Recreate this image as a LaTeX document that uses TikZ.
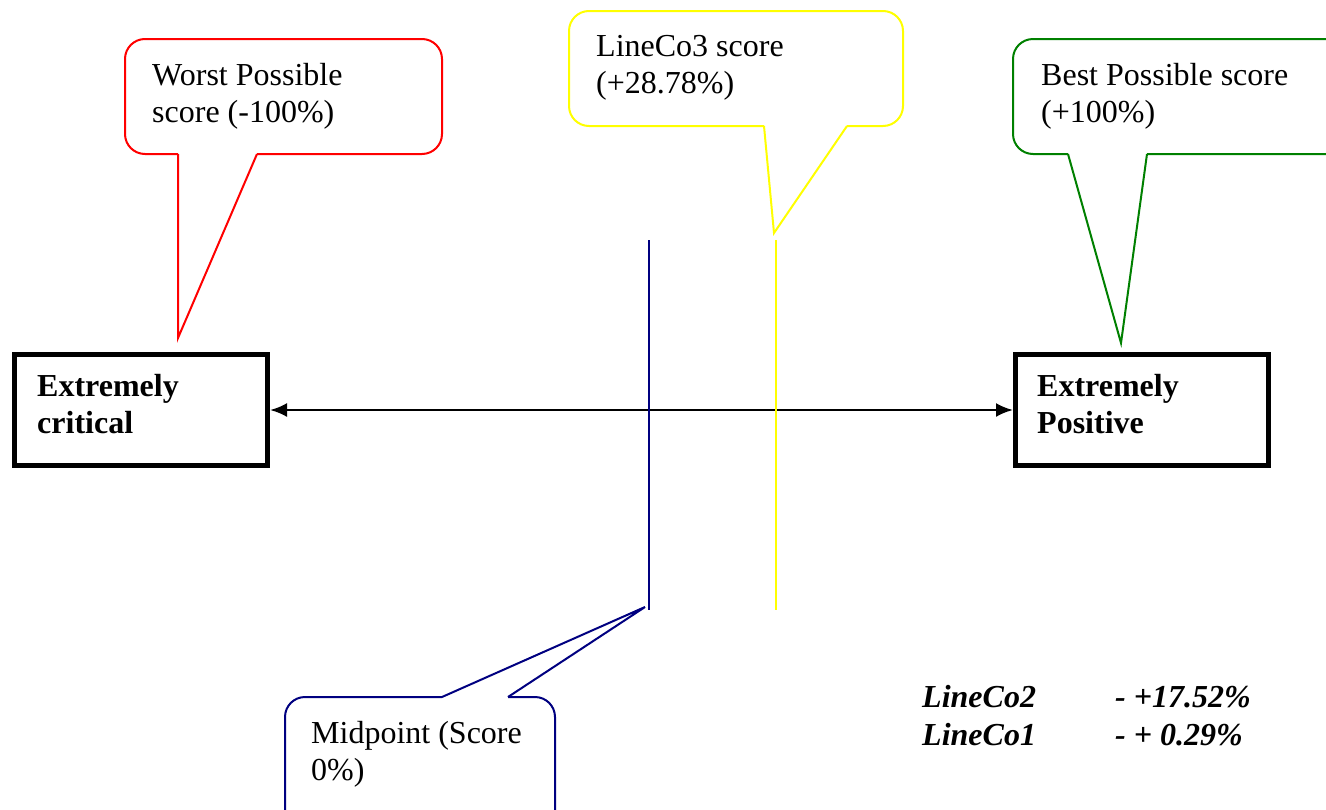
\documentclass[tikz,border=0pt]{standalone}
\usepackage{fontspec}
\setmainfont{Liberation Serif}
\usetikzlibrary{arrows.meta}
\definecolor{calred}{RGB}{255,0,0}
\definecolor{calyellow}{RGB}{255,255,0}
\definecolor{calgreen}{RGB}{0,128,0}
\definecolor{calblue}{RGB}{0,0,128}
\begin{document}
\begin{tikzpicture}[x=1pt,y=-1pt,
  txt/.style={inner sep=0pt, anchor=base west, align=left,
    font=\fontsize{32}{37}\selectfont},
  boldtxt/.style={txt, font=\fontsize{32}{37}\selectfont\bfseries},
  notetxt/.style={txt, font=\fontsize{32}{37}\selectfont\bfseries\itshape},
  endbox/.style={draw=black, line width=5pt, fill=white, inner sep=0pt,
    minimum width=253pt, minimum height=111pt},
  bubble/.style={line width=2pt, rounded corners=20pt, line join=miter},
  tail/.style={line width=2pt, line join=miter},
  marker/.style={line width=2pt},
  scalearrow/.style={line width=2.5pt, {Latex[length=17pt,width=14pt]}-{Latex[length=17pt,width=14pt]}}
]
\useasboundingbox (0,0) rectangle (1326,809);
\clip (0,0) rectangle (1326,809);

% end points of the scale (base anchor = baseline of the last line)
\node[endbox] (crit) at (141,410) {};
\node[endbox] (pos)  at (1142,410) {};
\node[boldtxt] (critlbl) at (37,433) {Extremely\\critical};
\node[boldtxt] (poslbl)  at (1037,433) {Extremely\\Positive};
\draw[scalearrow] (crit.east) -- (pos.west);

% vertical markers: midpoint and LineCo3
\coordinate (midtop) at (649,240);
\coordinate (midbot) at (649,610);
\coordinate (l3top) at (776,240);
\coordinate (l3bot) at (776,610);
\draw[marker, calblue] (midtop) -- (midbot);
\draw[marker, calyellow] (l3top) -- (l3bot);

% worst possible callout
\coordinate (redtip) at (178,338);
\draw[bubble, calred] (257,154) -- (442,154) -- (442,39) -- (125,39) -- (125,154) -- (178,154);
\draw[tail, calred] (178,154) -- (redtip) -- (257,154);
\node[txt] (worst) at (152,122) {Worst Possible\\score (-100\%)};

% LineCo3 callout
\coordinate (yeltip) at (774,233);
\draw[bubble, calyellow] (847,126) -- (903,126) -- (903,11) -- (569,11) -- (569,126) -- (764,126);
\draw[tail, calyellow] (764,126) -- (yeltip) -- (847,126);
\node[txt] (lineco3) at (596,93) {LineCo3 score\\(+28.78\%)};

% best possible callout
\coordinate (grntip) at (1121,343);
\draw[bubble, calgreen] (1147,154) -- (1346,154) -- (1346,39) -- (1013,39) -- (1013,154) -- (1068,154);
\draw[tail, calgreen] (1068,154) -- (grntip) -- (1147,154);
\node[txt] (best) at (1041,122) {Best Possible score\\(+100\%)};

% midpoint callout
\coordinate (blutip) at (645,607);
\draw[bubble, calblue] (442,697) -- (285,697) -- (285,840) -- (555,840) -- (555,697) -- (508,697);
\draw[tail, calblue] (442,697) -- (blutip) -- (508,697);
\node[txt] (midpt) at (311,780) {Midpoint (Score\\0\%)};

% other companies
\node[notetxt] (co2) at (922,707) {LineCo2};
\node[notetxt] (co2v) at (1115,707) {- +17.52\%};
\node[notetxt] (co1) at (922,745) {LineCo1};
\node[notetxt] (co1v) at (1115,745) {- + 0.29\%};
\end{tikzpicture}
\end{document}
